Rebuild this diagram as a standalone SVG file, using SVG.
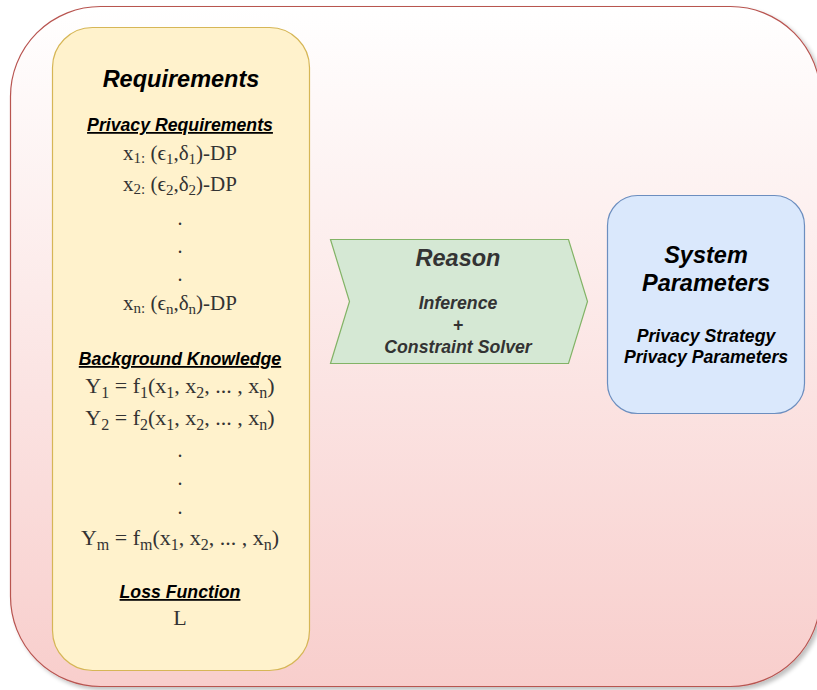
<svg xmlns="http://www.w3.org/2000/svg" width="817" height="690" viewBox="0 0 817 690">
<defs>
  <linearGradient id="outerGrad" x1="0" y1="0" x2="0" y2="1">
    <stop offset="0" stop-color="#ffffff"/>
    <stop offset="1" stop-color="#f8cecc"/>
  </linearGradient>
  <filter id="shadow" x="-5%" y="-5%" width="115%" height="115%">
    <feGaussianBlur in="SourceAlpha" stdDeviation="2"/>
    <feOffset dx="3" dy="3" result="b"/>
    <feComponentTransfer><feFuncA type="linear" slope="0.25"/></feComponentTransfer>
    <feMerge><feMergeNode/><feMergeNode in="SourceGraphic"/></feMerge>
  </filter>
</defs>
<style>
  .h { font-family: "Liberation Sans", Arial, sans-serif; font-weight: bold; font-style: italic; text-anchor: middle; }
  .t { font-size: 23.5px; }
  .s { font-size: 17.7px; }
  .u { text-decoration: underline; }
  .m { font-family: "Liberation Serif", "Times New Roman", serif; fill: #333333; text-anchor: middle; }
  .sx { font-size: 15px; }
  .sy { font-size: 16px; }
</style>
<rect id="container" x="10.5" y="6.5" width="810" height="680" rx="90" ry="90" fill="url(#outerGrad)" stroke="#b85450" stroke-width="1.2" filter="url(#shadow)"/>

<g id="requirements">
  <rect x="52.5" y="27.5" width="257" height="643" rx="40" ry="40" fill="#fff2cc" stroke="#d6b656" stroke-width="1.2"/>
  <text class="h t" x="181" y="87">Requirements</text>
  <text class="h s u" x="180" y="131">Privacy Requirements</text>
  <text class="m" x="180" y="160" font-size="21">x<tspan class="sx" dy="3">1:</tspan><tspan dy="-3"> (ϵ</tspan><tspan class="sx" dy="4">1</tspan><tspan dy="-4">,δ</tspan><tspan class="sx" dy="4">1</tspan><tspan dy="-4">)-DP</tspan></text>
  <text class="m" x="180" y="191" font-size="21">x<tspan class="sx" dy="3">2:</tspan><tspan dy="-3"> (ϵ</tspan><tspan class="sx" dy="4">2</tspan><tspan dy="-4">,δ</tspan><tspan class="sx" dy="4">2</tspan><tspan dy="-4">)-DP</tspan></text>
  <text class="m" x="180" y="225" font-size="20">.</text>
  <text class="m" x="180" y="253" font-size="20">.</text>
  <text class="m" x="180" y="281" font-size="20">.</text>
  <text class="m" x="180" y="310" font-size="21">x<tspan class="sx" dy="3">n:</tspan><tspan dy="-3"> (ϵ</tspan><tspan class="sx" dy="4">n</tspan><tspan dy="-4">,δ</tspan><tspan class="sx" dy="4">n</tspan><tspan dy="-4">)-DP</tspan></text>
  <text class="h s u" x="180" y="365">Background Knowledge</text>
  <text class="m" x="180" y="393" font-size="22">Y<tspan class="sy" dy="5">1</tspan><tspan dy="-5"> = f</tspan><tspan class="sy" dy="5">1</tspan><tspan dy="-5">(x</tspan><tspan class="sy" dy="5">1</tspan><tspan dy="-5">, x</tspan><tspan class="sy" dy="5">2</tspan><tspan dy="-5">, ... , x</tspan><tspan class="sy" dy="5">n</tspan><tspan dy="-5">)</tspan></text>
  <text class="m" x="180" y="425" font-size="22">Y<tspan class="sy" dy="5">2</tspan><tspan dy="-5"> = f</tspan><tspan class="sy" dy="5">2</tspan><tspan dy="-5">(x</tspan><tspan class="sy" dy="5">1</tspan><tspan dy="-5">, x</tspan><tspan class="sy" dy="5">2</tspan><tspan dy="-5">, ... , x</tspan><tspan class="sy" dy="5">n</tspan><tspan dy="-5">)</tspan></text>
  <text class="m" x="180" y="457" font-size="20">.</text>
  <text class="m" x="180" y="485" font-size="20">.</text>
  <text class="m" x="180" y="514" font-size="20">.</text>
  <text class="m" x="180" y="545" font-size="22">Y<tspan class="sy" dy="5">m</tspan><tspan dy="-5"> = f</tspan><tspan class="sy" dy="5">m</tspan><tspan dy="-5">(x</tspan><tspan class="sy" dy="5">1</tspan><tspan dy="-5">, x</tspan><tspan class="sy" dy="5">2</tspan><tspan dy="-5">, ... , x</tspan><tspan class="sy" dy="5">n</tspan><tspan dy="-5">)</tspan></text>
  <text class="h s u" x="180" y="598">Loss Function</text>
  <text class="m" x="180" y="625" font-size="22">L</text>
</g>

<g id="reason">
  <polygon points="330.5,239.5 568.5,239.5 587.5,301.5 568.5,363.5 330.5,363.5 349.5,301.5" fill="#d5e8d4" stroke="#82b366" stroke-width="1.2"/>
  <text class="h t" x="458" y="266" fill="#333333">Reason</text>
  <text class="h s" x="458" y="309" fill="#333333">Inference</text>
  <text class="h s" x="458" y="331" fill="#333333">+</text>
  <text class="h s" x="458" y="353" fill="#333333">Constraint Solver</text>
</g>

<g id="system-parameters">
  <rect x="607.5" y="195.5" width="197" height="218" rx="30" ry="30" fill="#dae8fc" stroke="#6c8ebf" stroke-width="1.2"/>
  <text class="h t" x="706" y="263">System</text>
  <text class="h t" x="706" y="291">Parameters</text>
  <text class="h s" x="706" y="342">Privacy Strategy</text>
  <text class="h s" x="706" y="363">Privacy Parameters</text>
</g>

<g id="connectors"/>
</svg>
